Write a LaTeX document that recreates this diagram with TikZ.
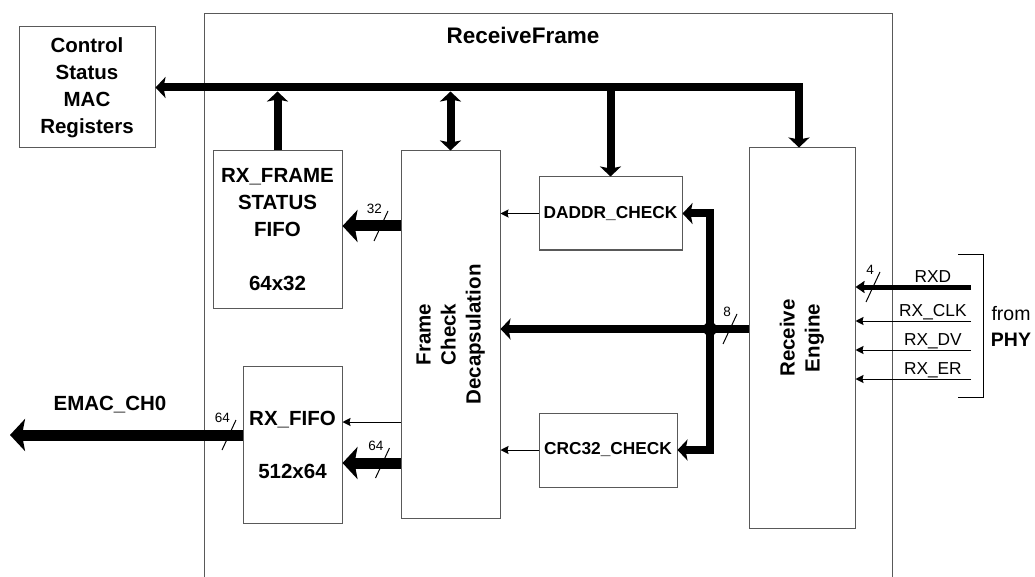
\documentclass[tikz,border=0pt]{standalone}
\usepackage{fontspec}
\setmainfont{Liberation Sans}
\usetikzlibrary{arrows.meta,positioning}
\tikzset{
  BusTip/.tip={Stealth[length=10pt,width=21pt,inset=2pt]},
  DataTip/.tip={Stealth[length=15pt,width=32pt,inset=3pt]},
  SigTip/.tip={Stealth[length=8pt,width=8pt,inset=1pt]},
  RxdTip/.tip={Stealth[length=9pt,width=12pt,inset=1pt]},
  frameline/.style={draw=black!65, line width=1pt},
  blk/.style={draw=black!65, line width=1pt, align=center, inner sep=0pt,
              font=\bfseries\fontsize{20.5}{27}\selectfont},
  chk/.style={blk, font=\bfseries\fontsize{17.3}{21}\selectfont},
  ttl/.style={font=\bfseries\fontsize{22.5}{27}\selectfont},
  lbl/.style={font=\bfseries\fontsize{20.5}{27}\selectfont},
  sigtxt/.style={font=\fontsize{17.3}{21}\selectfont, inner sep=0pt, anchor=base},
  wtxt/.style={font=\fontsize{13.5}{16}\selectfont, inner sep=0pt, anchor=east},
  dot/.style={circle, fill=black, inner sep=0pt, minimum size=14pt},
  bus/.style={line width=8pt, -BusTip},
  data/.style={line width=11pt, -DataTip},
  sig/.style={line width=1pt, -SigTip},
  rxd/.style={line width=5pt, -RxdTip},
  slash/.style={line width=1pt},
}
\newcommand{\buswidth}[3]{%
  \draw[slash] ([shift={(-7,15)}]#2) -- ([shift={(7,-15)}]#2);
  \node[wtxt] (#1) at ([shift={(1,-17.5)}]#2) {#3};}

\begin{document}
\begin{tikzpicture}[x=1pt, y=-1pt]
  \useasboundingbox (0,0) rectangle (1035,577);
  % ReceiveFrame outline
  \draw[frameline] (204,577) |- (892,14) -- (892,577);
  \node[ttl] (title) at (523,35) {ReceiveFrame};
  % blocks
  \node[blk, minimum width=136pt, minimum height=121pt] (csr) at (87,87.5) {Control\\Status\\MAC\\Registers};
  \node[blk, minimum width=129pt, minimum height=157pt] (status) at (277.5,229.5) {RX\_FRAME\\STATUS\\FIFO\\[27pt]64x32};
  \node[blk, minimum width=99pt, minimum height=157pt] (fifo) at (292.5,444.5) {RX\_FIFO\\[26pt]512x64};
  \node[blk, minimum width=99pt, minimum height=367pt] (frame) at (450.5,334.5)
    {\rotatebox{90}{\fontsize{20.5}{25}\selectfont\begin{tabular}{@{}c@{}}Frame\\Check\\Decapsulation\end{tabular}}};
  \node[chk, minimum width=143pt, minimum height=73pt] (daddr) at (610.5,213.5) {DADDR\_CHECK};
  \node[chk, minimum width=138pt, minimum height=74pt] (crc) at (608,450) {CRC32\_CHECK};
  \node[blk, minimum width=106pt, minimum height=380pt] (re) at (802,338)
    {\rotatebox{90}{\fontsize{20.5}{25}\selectfont\begin{tabular}{@{}c@{}}Receive\\Engine\end{tabular}}};
  % register bus
  \coordinate (busR) at (799,0);
  \coordinate (busB) at (0,91.5);
  \draw[bus, BusTip-BusTip] (csr.east) -| (re.north -| busR);
  \draw[bus] (status.north) -- (status.north |- busB);
  \draw[bus, BusTip-BusTip] (frame.north) -- (frame.north |- busB);
  \draw[bus] (daddr.north |- csr.east) -- (daddr.north);
  % receive data path
  \coordinate (jn) at (710,329);
  \draw[bus] (re.west |- jn) -- (frame.east |- jn);
  \draw[bus] (jn) |- (daddr.east);
  \draw[bus] (jn) |- (crc.east);
  \node[dot] (jdot) at (jn) {};
  \buswidth{w8}{730,329}{8}
  \draw[sig] (daddr.west) -- (frame.east |- daddr.west);
  \draw[sig] (crc.west) -- (frame.east |- crc.west);
  % to the FIFOs
  \coordinate (tapS) at (0,226);
  \coordinate (tapF) at (0,422);
  \coordinate (tapD) at (0,463);
  \draw[data] (frame.west |- tapS) -- (status.east |- tapS);
  \buswidth{w32}{381,226}{32}
  \draw[sig] (frame.west |- tapF) -- (fifo.east |- tapF);
  \draw[data] (frame.west |- tapD) -- (fifo.east |- tapD);
  \buswidth{w64in}{382.5,463}{64}
  % EMAC output
  \coordinate (emac) at (10,435);
  \draw[data] (fifo.west |- emac) -- (emac);
  \buswidth{w64out}{229,435}{64}
  \node[lbl] (emaclbl) at (110,405) {EMAC\_CH0};
  % PHY inputs
  \coordinate (rxd) at (971,287);
  \coordinate (rxclk) at (971,321);
  \coordinate (rxdv) at (971,350);
  \coordinate (rxer) at (971,379);
  \draw[rxd] (rxd) -- (re.east |- rxd) node[sigtxt, pos=0.33, yshift=5pt] (rxdlbl) {RXD};
  \draw[sig] (rxclk) -- (re.east |- rxclk) node[sigtxt, pos=0.33, yshift=5pt] (rxclklbl) {RX\_CLK};
  \draw[sig] (rxdv) -- (re.east |- rxdv) node[sigtxt, pos=0.33, yshift=5pt] (rxdvlbl) {RX\_DV};
  \draw[sig] (rxer) -- (re.east |- rxer) node[sigtxt, pos=0.33, yshift=5pt] (rxerlbl) {RX\_ER};
  \buswidth{w4}{873,287}{4}
  \coordinate (brT) at (958,254);
  \coordinate (brB) at (958,397);
  \draw[line width=1pt] (brT) -- ++(25,0) |- (brB);
  \node[align=center, font=\fontsize{19.5}{26}\selectfont] (phy) at (1011,326) {from\\\textbf{PHY}};
\end{tikzpicture}
\end{document}
